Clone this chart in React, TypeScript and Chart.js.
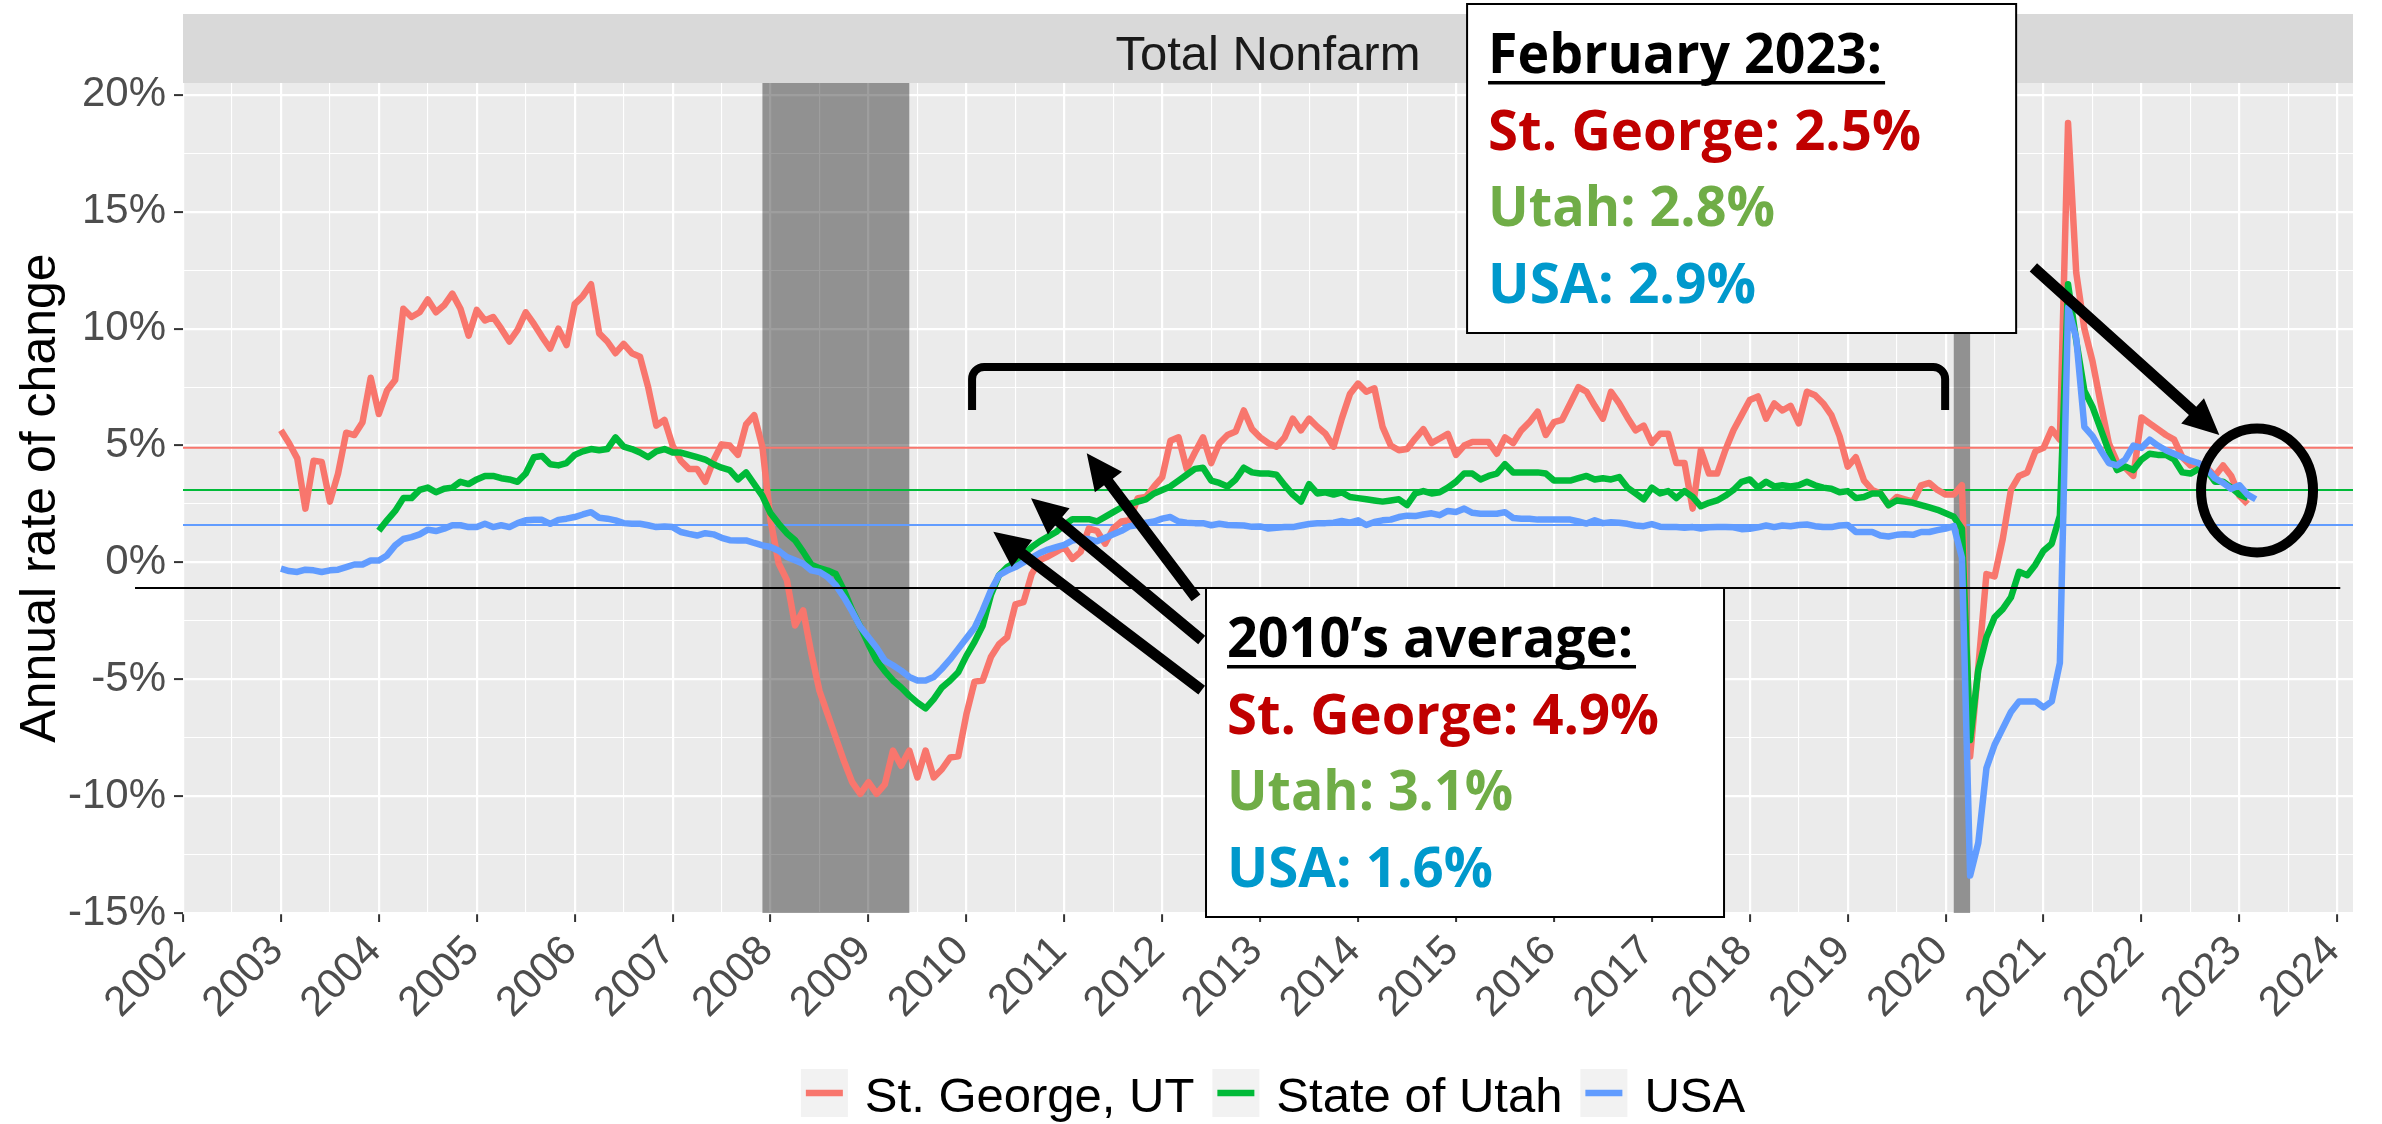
import React, { useEffect, useRef } from 'react';
import { Chart, registerables } from 'chart.js';

Chart.register(...registerables);

const CANVAS_W = 2382;
const CANVAS_H = 1124;

const stripTitle = 'Total Nonfarm';
const yAxisTitle = 'Annual rate of change';
const seriesNames = ['St. George, UT', 'State of Utah', 'USA'];
const seriesColors = ['#F8766D', '#00BA38', '#619CFF'];
const seriesStartYears = [2003, 2004, 2003];

// Monthly annual rate of change (%), St. George from Jan 2003
const stGeorge = [
  5.65, 5.1, 4.45, 2.3, 4.35, 4.3, 2.6, 3.8, 5.55, 5.45, 6.0, 7.9,
  6.35, 7.35, 7.8, 10.85, 10.5, 10.7, 11.25, 10.7, 11.0, 11.5, 10.85, 9.7,
  10.8, 10.35, 10.5, 10.0, 9.45, 9.95, 10.7, 10.2, 9.65, 9.15, 10.0, 9.3,
  11.05, 11.4, 11.9, 9.8, 9.45, 8.95, 9.35, 8.95, 8.8, 7.5, 5.85, 6.1,
  5.0, 4.35, 4.0, 4.0, 3.45, 4.35, 5.05, 5.0, 4.6, 5.9, 6.3, 4.95,
  1.8, -0.05, -0.75, -2.7, -2.05, -3.9, -5.5, -6.5, -7.5, -8.5, -9.4, -9.9,
  -9.4, -9.9, -9.5, -8.05, -8.7, -8.05, -9.2, -8.05, -9.2, -8.85, -8.35, -8.3,
  -6.5, -5.1, -5.05, -4.05, -3.5, -3.2, -1.8, -1.7, -0.5, 0.1, 0.25, 0.45,
  0.65, 0.15, 0.45, 1.45, 1.35, 0.8, 1.45, 1.75, 1.8, 2.75, 2.8, 3.25,
  3.65, 5.2, 5.35, 4.0, 4.7, 5.35, 4.25, 5.1, 5.45, 5.6, 6.5, 5.7,
  5.35, 5.1, 4.95, 5.35, 6.15, 5.65, 6.15, 5.8, 5.5, 4.95, 6.15, 7.2,
  7.65, 7.3, 7.45, 5.8, 5.0, 4.8, 4.85, 5.3, 5.7, 5.1, 5.3, 5.5,
  4.6, 5.0, 5.15, 5.15, 5.15, 4.65, 5.35, 5.1, 5.65, 6.0, 6.45, 5.45,
  6.0, 6.1, 6.8, 7.5, 7.3, 6.7, 6.15, 7.3, 6.8, 6.2, 5.65, 5.85,
  5.1, 5.5, 5.5, 4.25, 4.25, 2.3, 4.8, 3.8, 3.8, 4.8, 5.65, 6.3,
  6.95, 7.1, 6.15, 6.8, 6.5, 6.7, 5.95, 7.3, 7.15, 6.8, 6.3, 5.4,
  4.1, 4.5, 3.5, 3.1, 2.95, 2.45, 2.8, 2.7, 2.6, 3.3, 3.4, 3.1,
  2.9, 2.9, 3.3, -8.3, -4.5, -0.5, -0.6, 1.0, 3.1, 3.7, 3.85, 4.75,
  4.9, 5.7, 5.25, 18.8, 12.4, 10.0, 8.6, 6.8, 5.1, 4.3, 4.05, 3.7,
  6.2, 5.95, 5.7, 5.45, 5.25, 4.5, 4.15, 4.25, 4.05, 3.7, 4.15, 3.7,
  2.85, 2.5,
];

// State of Utah from Jan 2004
const utah = [
  1.35, 1.8, 2.2, 2.75, 2.75, 3.1, 3.2, 3.0, 3.15, 3.2, 3.45, 3.35,
  3.55, 3.7, 3.7, 3.6, 3.55, 3.45, 3.8, 4.5, 4.55, 4.2, 4.15, 4.25,
  4.6, 4.75, 4.85, 4.8, 4.85, 5.35, 4.95, 4.85, 4.7, 4.5, 4.75, 4.85,
  4.7, 4.7, 4.6, 4.5, 4.4, 4.2, 4.05, 3.95, 3.55, 3.85, 3.35, 2.85,
  2.1, 1.65, 1.25, 0.95, 0.45, -0.1, -0.25, -0.35, -0.5, -1.2, -2.05, -2.75,
  -3.5, -4.2, -4.65, -5.05, -5.35, -5.7, -6.0, -6.25, -5.85, -5.35, -5.05, -4.7,
  -4.0, -3.4, -2.7, -1.4, -0.55, -0.2, 0.0, 0.35, 0.65, 0.9, 1.1, 1.3,
  1.6, 1.85, 1.85, 1.85, 1.75, 1.95, 2.15, 2.35, 2.5, 2.6, 2.7, 2.95,
  3.1, 3.25, 3.5, 3.75, 4.0, 4.05, 3.5, 3.4, 3.25, 3.55, 4.05, 3.85,
  3.8, 3.8, 3.75, 3.3, 2.9, 2.6, 3.35, 2.95, 3.0, 2.9, 3.0, 2.8,
  2.75, 2.7, 2.65, 2.6, 2.65, 2.7, 2.45, 2.95, 3.05, 2.95, 3.0, 3.2,
  3.45, 3.8, 3.8, 3.55, 3.7, 3.8, 4.2, 3.85, 3.85, 3.85, 3.85, 3.8,
  3.5, 3.5, 3.5, 3.6, 3.7, 3.55, 3.6, 3.55, 3.65, 3.2, 2.95, 2.7,
  3.2, 2.95, 3.05, 2.75, 3.05, 2.8, 2.4, 2.55, 2.65, 2.85, 3.1, 3.45,
  3.55, 3.2, 3.45, 3.25, 3.3, 3.25, 3.3, 3.45, 3.3, 3.2, 3.15, 3.0,
  3.05, 2.75, 2.8, 2.95, 2.95, 2.45, 2.65, 2.6, 2.55, 2.45, 2.35, 2.25,
  2.1, 1.95, 1.45, -7.6, -4.6, -3.2, -2.35, -2.0, -1.5, -0.4, -0.55, -0.1,
  0.5, 0.8, 2.0, 11.9, 9.5, 7.35, 6.65, 5.7, 4.75, 3.95, 4.1, 3.95,
  4.4, 4.65, 4.6, 4.6, 4.4, 3.85, 3.8, 4.0, 3.95, 3.45, 3.45, 3.2,
  2.9, 2.75,
];

// USA from Jan 2003
const usa = [
  -0.27, -0.37, -0.41, -0.31, -0.34, -0.41, -0.34, -0.31, -0.2, -0.09, -0.09, 0.08,
  0.08, 0.3, 0.73, 1.0, 1.08, 1.2, 1.4, 1.34, 1.44, 1.59, 1.59, 1.51,
  1.51, 1.65, 1.51, 1.59, 1.51, 1.68, 1.8, 1.82, 1.82, 1.65, 1.82, 1.87,
  1.94, 2.05, 2.15, 1.91, 1.87, 1.8, 1.68, 1.65, 1.65, 1.59, 1.51, 1.54,
  1.51, 1.3, 1.22, 1.15, 1.25, 1.2, 1.05, 0.95, 0.94, 0.94, 0.83, 0.73,
  0.66, 0.5, 0.23, 0.09, -0.06, -0.34, -0.41, -0.63, -0.98, -1.5, -2.1, -2.75,
  -3.2, -3.65, -4.2, -4.4, -4.63, -4.9, -5.05, -5.05, -4.9, -4.55, -4.15, -3.7,
  -3.25, -2.8, -2.05, -1.2, -0.55, -0.35, -0.2, 0.0, 0.2, 0.4, 0.55, 0.65,
  0.75, 0.94, 1.0, 1.0, 0.9, 1.05, 1.2, 1.35, 1.55, 1.6, 1.7, 1.75,
  1.87, 1.94, 1.75, 1.7, 1.68, 1.68, 1.59, 1.65, 1.6, 1.59, 1.58, 1.52,
  1.54, 1.45, 1.48, 1.51, 1.51, 1.58, 1.64, 1.67, 1.68, 1.7, 1.77, 1.7,
  1.8, 1.6, 1.73, 1.8, 1.83, 1.94, 2.0, 1.98, 2.05, 2.1, 2.02, 2.2,
  2.16, 2.3, 2.12, 2.08, 2.08, 2.08, 2.15, 1.9, 1.87, 1.87, 1.83, 1.83,
  1.83, 1.83, 1.83, 1.75, 1.66, 1.8, 1.68, 1.72, 1.7, 1.65, 1.58, 1.55,
  1.64, 1.53, 1.51, 1.51, 1.48, 1.51, 1.45, 1.5, 1.51, 1.51, 1.5, 1.42,
  1.44, 1.5, 1.58, 1.51, 1.58, 1.55, 1.6, 1.62, 1.55, 1.51, 1.51, 1.58,
  1.6, 1.3, 1.3, 1.3, 1.15, 1.11, 1.18, 1.2, 1.18, 1.3, 1.3, 1.38,
  1.45, 1.55, 0.2, -13.4, -12.0, -8.8, -7.8, -7.1, -6.4, -5.95, -5.95, -5.95,
  -6.2, -5.95, -4.3, 10.9, 9.6, 5.8, 5.4, 4.8, 4.25, 4.15, 4.4, 5.0,
  4.9, 5.25, 5.0, 4.8, 4.65, 4.5, 4.35, 4.25, 4.0, 3.6, 3.4, 3.15,
  3.3, 2.9, 2.7,
];

const averages2010s = [4.9, 3.1, 1.6];
const recessionStarts = [2007.917, 2020.083];
const recessionEnds = [2009.417, 2020.25];
const referenceLineValue = -1.1;

const xTickYears = [2002, 2003, 2004, 2005, 2006, 2007, 2008, 2009, 2010, 2011, 2012, 2013,
  2014, 2015, 2016, 2017, 2018, 2019, 2020, 2021, 2022, 2023, 2024];
const yTickValues = [-15, -10, -5, 0, 5, 10, 15, 20];

const febTitle = 'February 2023:';
const febLines = ['St. George: 2.5%', 'Utah: 2.8%', 'USA: 2.9%'];
const avgTitle = '2010\u2019s average:';
const avgLines = ['St. George: 4.9%', 'Utah: 3.1%', 'USA: 1.6%'];
const noteColors = ['#C00000', '#70AD47', '#0099CC'];

// annotation geometry (in data units: year, %)
const febBox = { x0: 2015.113, x1: 2020.72, y0: 23.89, y1: 9.814, widths: [394, 433, 287, 268] };
const avgBox = { x0: 2012.447, x1: 2017.737, y0: -1.095, y1: -15.171, widths: [406, 432, 286, 266] };
const brace = { x0: 2010.058, x1: 2019.995, yBar: 8.36, yEnd: 6.52 };
const arrows = [
  { x0: 2012.403, y0: -5.46, x1: 2010.275, y1: 1.31 },
  { x0: 2012.403, y0: -3.32, x1: 2010.66, y1: 2.74 },
  { x0: 2012.345, y0: -1.52, x1: 2011.229, y1: 4.67 },
  { x0: 2020.896, y0: 12.62, x1: 2022.795, y1: 5.45 },
];
const circle = { x: 2023.18, y: 3.08 };
const refLineRange = [2001.51, 2024.03];

const SANS = '"Liberation Sans", Arial, sans-serif';
const NOTE_FONT = '"Open Sans", "Noto Sans", sans-serif';

function toPoints(start: number, arr: number[]) {
  return arr.map((v, i) => ({ x: start + i / 12, y: v }));
}

function fitText(ctx: CanvasRenderingContext2D, text: string, x: number, y: number, width: number) {
  const w = ctx.measureText(text).width;
  ctx.save();
  ctx.translate(x, y);
  ctx.scale(width / w, 1);
  ctx.fillText(text, 0, 0);
  ctx.restore();
}

function drawArrow(ctx: CanvasRenderingContext2D, x0: number, y0: number, x1: number, y1: number) {
  const shaft = 11, headLen = 36, headHalf = 17;
  const dx = x1 - x0, dy = y1 - y0;
  const L = Math.hypot(dx, dy);
  const ux = dx / L, uy = dy / L;
  const px = -uy, py = ux;
  const bx = x1 - ux * headLen, by = y1 - uy * headLen;
  ctx.beginPath();
  ctx.moveTo(x0 + px * shaft / 2, y0 + py * shaft / 2);
  ctx.lineTo(bx + px * shaft / 2, by + py * shaft / 2);
  ctx.lineTo(bx + px * headHalf, by + py * headHalf);
  ctx.lineTo(x1, y1);
  ctx.lineTo(bx - px * headHalf, by - py * headHalf);
  ctx.lineTo(bx - px * shaft / 2, by - py * shaft / 2);
  ctx.lineTo(x0 - px * shaft / 2, y0 - py * shaft / 2);
  ctx.closePath();
  ctx.fill();
}

function drawNoteBox(ctx: CanvasRenderingContext2D, chart: any, box: any, title: string, lines: string[]) {
  const { x, y } = chart.scales;
  const left = x.getPixelForValue(box.x0), right = x.getPixelForValue(box.x1);
  const top = y.getPixelForValue(box.y0), bottom = y.getPixelForValue(box.y1);
  ctx.save();
  ctx.fillStyle = '#FFFFFF';
  ctx.fillRect(left, top, right - left, bottom - top);
  ctx.strokeStyle = '#000000';
  ctx.lineWidth = 2;
  ctx.strokeRect(left, top, right - left, bottom - top);
  ctx.font = `bold 56px ${NOTE_FONT}`;
  ctx.textBaseline = 'alphabetic';
  ctx.textAlign = 'left';
  const tx = left + 21;
  const baselines = [69, 146, 222.5, 299];
  ctx.fillStyle = '#000000';
  fitText(ctx, title, tx, top + baselines[0], box.widths[0]);
  ctx.fillRect(tx, top + baselines[0] + 8, box.widths[0] + 3, 3.5);
  lines.forEach((t, i) => {
    ctx.fillStyle = noteColors[i];
    fitText(ctx, t, tx, top + baselines[i + 1], box.widths[i + 1]);
  });
  ctx.restore();
}

const overlayPlugin = {
  id: 'overlay',
  beforeDraw(chart: any) {
    const { ctx, chartArea: a } = chart;
    ctx.save();
    ctx.fillStyle = '#EBEBEB';
    ctx.fillRect(a.left, a.top, a.right - a.left, a.bottom - a.top);
    ctx.fillStyle = '#D9D9D9';
    ctx.fillRect(a.left, a.top - 69, a.right - a.left, 69);
    ctx.fillStyle = '#1A1A1A';
    ctx.font = `49px ${SANS}`;
    ctx.textAlign = 'center';
    ctx.textBaseline = 'alphabetic';
    ctx.fillText(stripTitle, (a.left + a.right) / 2, a.top - 13);
    ctx.restore();
  },
  beforeDatasetsDraw(chart: any) {
    const { ctx, chartArea: a, scales: { x, y } } = chart;
    ctx.save();
    ctx.beginPath();
    ctx.rect(a.left, a.top, a.right - a.left, a.bottom - a.top);
    ctx.clip();
    ctx.fillStyle = 'rgba(0,0,0,0.38)';
    recessionStarts.forEach((s, i) => {
      const x0 = x.getPixelForValue(s);
      const x1 = x.getPixelForValue(recessionEnds[i]);
      ctx.fillRect(x0, a.top, x1 - x0, a.bottom - a.top);
    });
    averages2010s.forEach((v, i) => {
      const py = y.getPixelForValue(v);
      ctx.strokeStyle = seriesColors[i];
      ctx.lineWidth = 2;
      ctx.beginPath();
      ctx.moveTo(a.left, py);
      ctx.lineTo(a.right, py);
      ctx.stroke();
    });
    ctx.restore();
  },
  afterDatasetsDraw(chart: any) {
    const { ctx, chartArea: a, scales: { x, y } } = chart;
    ctx.save();
    // reference black line
    const ry = y.getPixelForValue(referenceLineValue);
    ctx.strokeStyle = '#000000';
    ctx.lineWidth = 2;
    ctx.beginPath();
    ctx.moveTo(x.getPixelForValue(refLineRange[0]), ry);
    ctx.lineTo(x.getPixelForValue(refLineRange[1]), ry);
    ctx.stroke();

    // brace
    const bl = x.getPixelForValue(brace.x0), br = x.getPixelForValue(brace.x1);
    const by = y.getPixelForValue(brace.yBar), be = y.getPixelForValue(brace.yEnd);
    const r = 12;
    ctx.lineWidth = 8;
    ctx.lineJoin = 'round';
    ctx.beginPath();
    ctx.moveTo(bl, be);
    ctx.lineTo(bl, by + r);
    ctx.arcTo(bl, by, bl + r, by, r);
    ctx.lineTo(br - r, by);
    ctx.arcTo(br, by, br, by + r, r);
    ctx.lineTo(br, be);
    ctx.stroke();

    // arrows
    ctx.fillStyle = '#000000';
    arrows.forEach((ar) => {
      drawArrow(ctx, x.getPixelForValue(ar.x0), y.getPixelForValue(ar.y0),
        x.getPixelForValue(ar.x1), y.getPixelForValue(ar.y1));
    });

    // circle
    ctx.lineWidth = 10;
    ctx.beginPath();
    ctx.ellipse(x.getPixelForValue(circle.x), y.getPixelForValue(circle.y), 56, 62, 0, 0, Math.PI * 2);
    ctx.stroke();
    ctx.restore();

    drawNoteBox(ctx, chart, febBox, febTitle, febLines);
    drawNoteBox(ctx, chart, avgBox, avgTitle, avgLines);

    // legend
    ctx.save();
    ctx.font = `49px ${SANS}`;
    ctx.textBaseline = 'alphabetic';
    ctx.textAlign = 'left';
    const keyW = 47, keyH = 48, gapKT = 17, gapItems = 18;
    const widths = seriesNames.map((n) => ctx.measureText(n).width);
    const total = widths.reduce((s, w) => s + keyW + gapKT + w, 0) + gapItems * (seriesNames.length - 1);
    let lx = (a.left + a.right) / 2 + 5 - total / 2;
    const keyTop = 1069;
    seriesNames.forEach((n, i) => {
      ctx.fillStyle = '#F2F2F2';
      ctx.fillRect(lx, keyTop, keyW, keyH);
      ctx.strokeStyle = seriesColors[i];
      ctx.lineWidth = 6.5;
      ctx.beginPath();
      ctx.moveTo(lx + 5, keyTop + keyH / 2);
      ctx.lineTo(lx + keyW - 5, keyTop + keyH / 2);
      ctx.stroke();
      ctx.fillStyle = '#000000';
      ctx.fillText(n, lx + keyW + gapKT, 1112);
      lx += keyW + gapKT + widths[i] + gapItems;
    });
    ctx.restore();
  },
};

export default function App() {
  const ref = useRef<HTMLCanvasElement>(null);
  useEffect(() => {
    const canvas = ref.current;
    if (!canvas) return;
    const xTicks: number[] = [];
    xTickYears.forEach((yr, i) => {
      xTicks.push(yr);
      if (i < xTickYears.length - 1) xTicks.push(yr + 0.5);
    });
    const yTicks: number[] = [];
    yTickValues.forEach((v, i) => {
      yTicks.push(v);
      if (i < yTickValues.length - 1) yTicks.push(v + 2.5);
    });
    const seriesData = [stGeorge, utah, usa];
    const chart = new Chart(canvas, {
      type: 'line',
      data: {
        datasets: seriesData.map((arr, i) => ({
          label: seriesNames[i],
          data: toPoints(seriesStartYears[i], arr),
          borderColor: seriesColors[i],
          backgroundColor: seriesColors[i],
          borderWidth: 6.5,
          pointRadius: 0,
          tension: 0,
          borderJoinStyle: 'round',
          borderCapStyle: 'butt',
          fill: false,
          order: 3 - i,
        })),
      },
      options: {
        responsive: false,
        animation: false,
        devicePixelRatio: 1,
        layout: { padding: { top: 83, right: 29, left: 0, bottom: 0 } },
        plugins: { legend: { display: false }, tooltip: { enabled: false } },
        scales: {
          x: {
            type: 'linear',
            min: 2002,
            max: 2024.16,
            afterBuildTicks: (s: any) => { s.ticks = xTicks.map((v) => ({ value: v })); },
            afterFit: (s: any) => { s.height = 211; s.paddingLeft = 0; s.paddingRight = 0; },
            border: { display: false },
            grid: {
              color: '#FFFFFF',
              lineWidth: (c: any) => (c.tick && Number.isInteger(c.tick.value) ? 2.2 : 1.1),
              tickColor: (c: any) => (c.tick && Number.isInteger(c.tick.value) ? '#333333' : 'rgba(0,0,0,0)'),
              tickWidth: 2,
              tickLength: 9,
            },
            ticks: {
              autoSkip: false,
              maxRotation: 45,
              minRotation: 45,
              padding: 4.5,
              labelOffset: -4,
              color: '#4D4D4D',
              font: { family: SANS, size: 42 },
              callback: (v: any) => (Number.isInteger(v) ? String(v) : ''),
            },
          },
          y: {
            type: 'linear',
            min: -15,
            max: 20.51,
            afterBuildTicks: (s: any) => { s.ticks = yTicks.map((v) => ({ value: v })); },
            afterFit: (s: any) => { s.width = 183; s.paddingTop = 0; s.paddingBottom = 0; },
            border: { display: false },
            grid: {
              color: '#FFFFFF',
              lineWidth: (c: any) => (c.tick && c.tick.value % 5 === 0 ? 2.2 : 1.1),
              tickColor: (c: any) => (c.tick && c.tick.value % 5 === 0 ? '#333333' : 'rgba(0,0,0,0)'),
              tickWidth: 2,
              tickLength: 9,
            },
            ticks: {
              padding: 8,
              color: '#4D4D4D',
              font: { family: SANS, size: 42 },
              callback: (v: any) => (v % 5 === 0 ? `${v}%` : ''),
            },
            title: {
              display: true,
              text: yAxisTitle,
              color: '#000000',
              font: { family: SANS, size: 50 },
              padding: { top: 11, bottom: 0 },
            },
          },
        },
      },
      plugins: [overlayPlugin],
    } as any);
    return () => chart.destroy();
  }, []);
  return (
    <div style={{ position: 'absolute', left: 0, top: 0, width: CANVAS_W, height: CANVAS_H }}>
      <canvas ref={ref} width={CANVAS_W} height={CANVAS_H} style={{ display: 'block', width: CANVAS_W, height: CANVAS_H }} />
    </div>
  );
}
